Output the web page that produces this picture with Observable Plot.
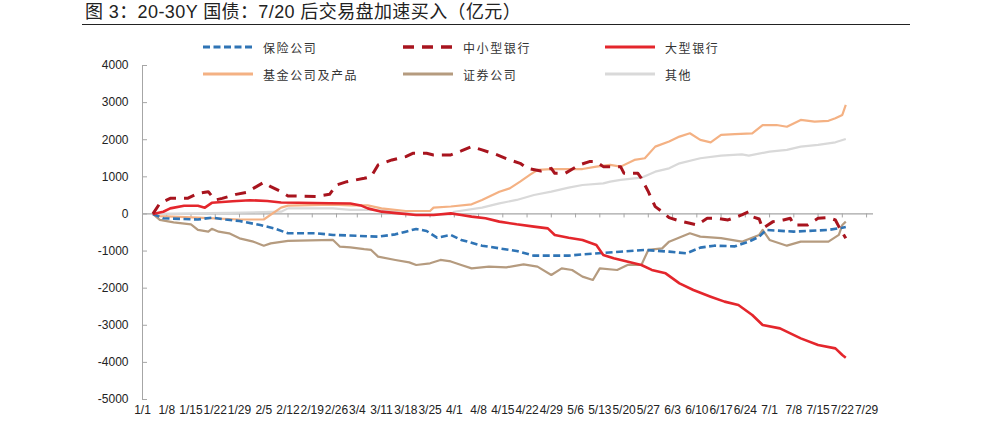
<!DOCTYPE html>
<html><head><meta charset="utf-8">
<script src="https://cdn.jsdelivr.net/npm/d3@7"></script>
<script src="https://cdn.jsdelivr.net/npm/@observablehq/plot@0.6"></script>
<style>
body{margin:0;background:#fff;}
#wrap{position:relative;width:1004px;height:427px;overflow:hidden;font-family:"Noto Sans CJK SC",sans-serif;}
#title{position:absolute;left:85px;top:0px;font-size:18px;letter-spacing:0.4px;color:#222;line-height:24px;white-space:nowrap;font-family:"Liberation Sans","Noto Sans CJK SC",sans-serif;}
#rule{position:absolute;left:82px;top:24px;width:828px;height:0;border-top:1.5px solid #222;}
.lg{position:absolute;display:flex;align-items:center;font-size:12px;color:#333;letter-spacing:1.6px;white-space:nowrap;height:16px;}
.lg svg{margin-right:10px;}
#chart{position:absolute;left:0;top:0;}
</style></head>
<body>
<div id="wrap">
  <div id="chart"></div>
  <div id="title">图 3：20-30Y 国债：7/20 后交易盘加速买入（亿元）</div>
  <div id="rule"></div>
  <div id="legend"></div>
</div>
<script>
const xTickLabels = ["1/1","1/8","1/15","1/22","1/29","2/5","2/12","2/19","2/26","3/4","3/11","3/18","3/25","4/1","4/8","4/15","4/22","4/29","5/6","5/13","5/20","5/27","6/3","6/10","6/17","6/24","7/1","7/8","7/15","7/22","7/29"];
const yTicks = [-5000,-4000,-3000,-2000,-1000,0,1000,2000,3000,4000];

const insurance = [["01-04",0],["01-07",-118],["01-17",-150],["01-21",-100],["01-25",-150],["01-29",-190],["02-04",-300],["02-08",-390],["02-12",-520],["02-20",-520],["02-25",-566],["03-04",-590],["03-10",-612],["03-15",-550],["03-18",-477],["03-21",-404],["03-24",-460],["03-27",-640],["03-31",-566],["04-03",-700],["04-09",-855],["04-14",-927],["04-19",-997],["04-24",-1124],["05-04",-1124],["05-08",-1088],["05-14",-1050],["05-26",-970],["06-02",-1016],["06-07",-1062],["06-11",-908],["06-15",-855],["06-21",-873],["06-25",-747],["06-28",-612],["06-30",-431],["07-08",-477],["07-18",-431],["07-22",-370],["07-23",-350]];

const smallBanks = [["01-04",0],["01-06",286],["01-09",420],["01-14",420],["01-17",555],["01-20",600],["01-21",480],["01-22",377],["01-24",420],["01-28",528],["01-31",582],["02-02",690],["02-05",852],["02-07",735],["02-10",600],["02-12",485],["02-20",470],["02-24",528],["02-26",780],["03-01",870],["03-06",960],["03-08",1005],["03-10",1320],["03-14",1455],["03-18",1545],["03-20",1634],["03-24",1634],["03-26",1590],["03-31",1590],["04-03",1698],["04-06",1814],["04-09",1725],["04-13",1606],["04-17",1455],["04-20",1364],["04-22",1229],["04-26",1159],["04-29",1229],["04-30",1094],["05-03",1094],["05-07",1320],["05-10",1410],["05-12",1410],["05-14",1275],["05-19",1275],["05-20",1094],["05-24",1094],["05-25",960],["05-27",600],["05-29",197],["05-31",62],["06-02",-100],["06-05",-190],["06-08",-253],["06-10",-296],["06-13",-118],["06-16",-118],["06-19",-162],["06-23",-27],["06-25",62],["06-26",-73],["06-28",-135],["06-29",-388],["07-02",-207],["07-05",-162],["07-07",-118],["07-08",-296],["07-12",-296],["07-15",-118],["07-18",-100],["07-20",-162],["07-21",-342],["07-23",-657]];

const largeBanks = [["01-04",0],["01-07",60],["01-09",150],["01-13",220],["01-17",220],["01-19",170],["01-21",300],["01-27",340],["02-01",370],["02-06",350],["02-10",310],["02-15",300],["02-24",290],["03-02",280],["03-05",230],["03-07",150],["03-11",62],["03-16",16],["03-21",-27],["03-26",-27],["03-31",16],["04-03",-27],["04-06",-73],["04-10",-118],["04-14",-207],["04-19",-280],["04-24",-342],["04-28",-388],["04-30",-566],["05-04",-640],["05-08",-700],["05-12",-835],["05-14",-1105],["05-17",-1196],["05-25",-1375],["05-28",-1509],["06-01",-1600],["06-05",-1870],["06-09",-2050],["06-14",-2229],["06-18",-2363],["06-22",-2453],["06-26",-2722],["06-29",-2992],["07-04",-3083],["07-10",-3353],["07-15",-3531],["07-20",-3623],["07-22",-3800],["07-23",-3873]];

const funds = [["01-04",0],["01-06",-60],["01-17",-100],["01-29",-150],["02-05",-150],["02-10",170],["02-12",224],["02-25",250],["03-02",230],["03-07",230],["03-11",150],["03-18",80],["03-25",80],["03-26",170],["03-31",200],["04-06",260],["04-09",377],["04-14",600],["04-17",690],["04-20",870],["04-23",1068],["04-25",1185],["04-29",1210],["05-08",1210],["05-12",1275],["05-16",1320],["05-19",1275],["05-23",1455],["05-26",1500],["05-29",1814],["06-02",1950],["06-05",2084],["06-08",2173],["06-11",1995],["06-14",1930],["06-17",2130],["06-21",2150],["06-26",2173],["06-29",2396],["07-03",2396],["07-06",2350],["07-10",2533],["07-14",2490],["07-18",2510],["07-20",2577],["07-22",2667],["07-23",2937]];

const securities = [["01-04",0],["01-06",-160],["01-10",-226],["01-15",-280],["01-17",-430],["01-20",-477],["01-21",-400],["01-23",-477],["01-26",-522],["01-29",-657],["02-02",-747],["02-05",-855],["02-07",-792],["02-12",-728],["02-25",-700],["02-27",-882],["03-02",-900],["03-06",-950],["03-08",-970],["03-10",-1150],["03-15",-1240],["03-19",-1305],["03-21",-1375],["03-25",-1330],["03-28",-1240],["03-31",-1280],["04-03",-1375],["04-06",-1466],["04-11",-1420],["04-16",-1440],["04-21",-1358],["04-25",-1420],["04-29",-1645],["05-02",-1466],["05-05",-1510],["05-08",-1690],["05-11",-1780],["05-13",-1466],["05-18",-1510],["05-21",-1375],["05-25",-1375],["05-27",-970],["05-31",-927],["06-02",-747],["06-08",-522],["06-11",-612],["06-17",-650],["06-23",-747],["06-28",-566],["06-29",-431],["07-01",-700],["07-06",-855],["07-10",-747],["07-18",-747],["07-21",-566],["07-22",-296],["07-23",-207]];

const others = [["01-04",0],["01-26",30],["02-10",60],["02-12",150],["02-25",150],["03-02",108],["03-11",108],["03-21",-10],["03-31",-10],["04-01",60],["04-09",170],["04-14",286],["04-19",377],["04-24",510],["04-29",600],["05-04",708],["05-08",780],["05-14",825],["05-16",870],["05-19",916],["05-25",978],["05-29",1140],["06-02",1229],["06-05",1364],["06-11",1500],["06-17",1571],["06-23",1606],["06-25",1571],["07-01",1680],["07-06",1725],["07-10",1814],["07-15",1860],["07-20",1930],["07-23",2020]];

const YEAR = 2021;
const parse = s => { const [m, d] = s.split(/[-/]/).map(Number); return new Date(Date.UTC(YEAR, m - 1, d)); };
const xTicks = xTickLabels.map(parse);
const xStart = parse("01-01"), xEnd = parse("07-31");

const series = [
  {name: "保险公司", data: insurance, color: "#2f74b5", width: 2.6, dash: "7,3.5", legend: [0, 0]},
  {name: "中小型银行", data: smallBanks, color: "#a8141e", width: 3, dash: "11,8", legend: [0, 1]},
  {name: "大型银行", data: largeBanks, color: "#e4262c", width: 2.6, dash: null, legend: [0, 2]},
  {name: "基金公司及产品", data: funds, color: "#f4b183", width: 2.2, dash: null, legend: [1, 0]},
  {name: "证券公司", data: securities, color: "#b59b7f", width: 2.2, dash: null, legend: [1, 1]},
  {name: "其他", data: others, color: "#d9d9d9", width: 2.2, dash: null, legend: [1, 2]}
];
const drawOrder = ["其他", "证券公司", "基金公司及产品", "保险公司", "大型银行", "中小型银行"];

const axisColor = "#a6a6a6";
const chart = Plot.plot({
  width: 1004, height: 427,
  marginLeft: 142, marginRight: 131, marginTop: 65, marginBottom: 28,
  style: {fontFamily: "'Liberation Sans', Arial, sans-serif", fontSize: "12px", color: "#222", background: "transparent"},
  x: {type: "utc", domain: [xStart, xEnd]},
  y: {domain: [yTicks[0], yTicks[yTicks.length - 1]]},
  marks: [
    Plot.ruleX([xStart], {stroke: axisColor}),
    Plot.ruleY(yTicks, {x1: xStart, x2: xStart, insetRight: -5, stroke: axisColor}),
    Plot.ruleY([0], {stroke: axisColor, strokeWidth: 1.2}),
    Plot.ruleX(xTicks, {y1: 0, y2: 0, insetBottom: -4, stroke: axisColor}),
    Plot.axisY({ticks: yTicks, tickSize: 0, tickPadding: 14, tickFormat: d => String(d), label: null}),
    Plot.axisX({ticks: xTicks, tickSize: 0, tickPadding: 6, tickFormat: d => `${d.getUTCMonth() + 1}/${d.getUTCDate()}`, label: null}),
    ...drawOrder.map(n => series.find(s => s.name === n)).map(s =>
      Plot.line(s.data, {x: d => parse(d[0]), y: d => d[1], stroke: s.color, strokeWidth: s.width, strokeDasharray: s.dash, strokeLinejoin: "round", strokeLinecap: "butt"})
    )
  ]
});
document.getElementById("chart").appendChild(chart);

// legend (HTML)
const legendCols = [203, 403, 605], legendRows = [39, 66];
const lg = document.getElementById("legend");
for (const s of series) {
  const [r, c] = s.legend;
  const div = document.createElement("div");
  div.className = "lg";
  div.style.left = legendCols[c] + "px";
  div.style.top = legendRows[r] + "px";
  div.innerHTML = `<svg width="50" height="8"><line x1="0" x2="50" y1="4" y2="4" stroke="${s.color}" stroke-width="${s.width + 0.6}" ${s.dash ? `stroke-dasharray="${s.dash}"` : ""}/></svg><span>${s.name}</span>`;
  lg.appendChild(div);
}
</script>
</body></html>
